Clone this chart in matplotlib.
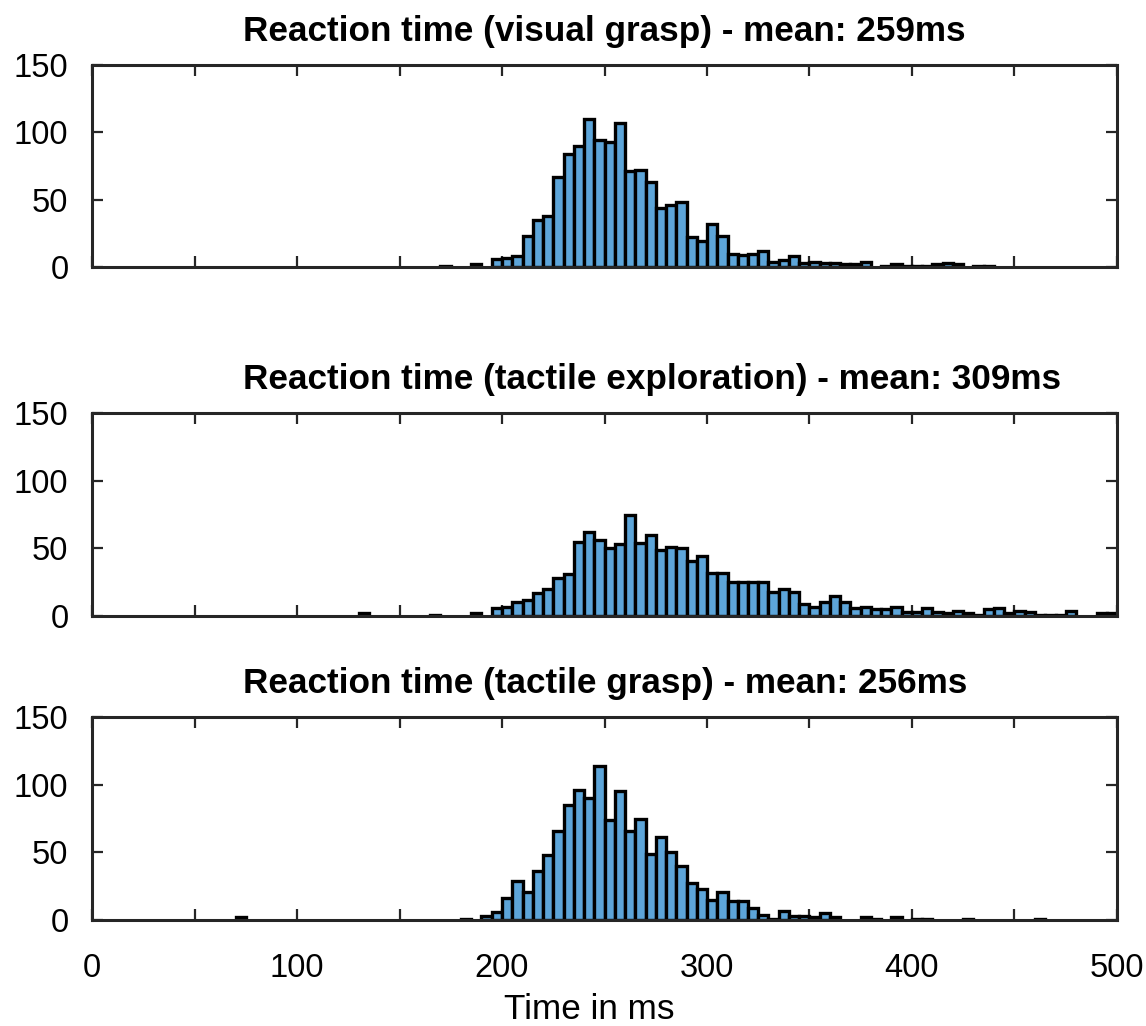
import matplotlib
matplotlib.use("Agg")
import matplotlib.pyplot as plt
from matplotlib.ticker import FuncFormatter

plt.rcParams['font.family'] = ['Liberation Sans', 'DejaVu Sans']

# histogram bins (left edge, ms) and counts, 5 ms wide bins
visual_bins = [170, 185, 195, 200, 205, 210, 215, 220, 225, 230, 235, 240, 245, 250,
               255, 260, 265, 270, 275, 280, 285, 290, 295, 300, 305, 310, 315, 320,
               325, 330, 335, 340, 345, 350, 355, 360, 365, 370, 375, 385, 390, 395,
               400, 405, 410, 415, 420, 430, 435]
visual_counts = [1, 2, 6, 7, 8, 23, 35, 38, 67, 84, 90, 110, 94, 93,
                 107, 71, 72, 63, 44, 46, 48, 22, 19, 32, 23, 10, 9, 10,
                 12, 4, 5, 8, 3, 4, 3, 3, 2, 2, 4, 1, 2, 1,
                 1, 1, 2, 3, 2, 1, 1]

explor_bins = [130, 165, 185, 195, 200, 205, 210, 215, 220, 225, 230, 235, 240, 245,
               250, 255, 260, 265, 270, 275, 280, 285, 290, 295, 300, 305, 310, 315,
               320, 325, 330, 335, 340, 345, 350, 355, 360, 365, 370, 375, 380, 385,
               390, 395, 400, 405, 410, 415, 420, 425, 430, 435, 440, 445, 450, 455,
               460, 465, 470, 475, 490, 495]
explor_counts = [2, 1, 2, 6, 7, 10, 12, 17, 20, 28, 31, 55, 62, 56,
                 50, 53, 75, 54, 60, 49, 51, 50, 41, 44, 32, 32, 25, 25,
                 25, 25, 18, 20, 18, 9, 7, 10, 15, 10, 6, 7, 5, 5,
                 7, 3, 3, 6, 3, 2, 4, 2, 1, 5, 6, 2, 4, 3,
                 1, 1, 1, 4, 2, 2]

tgrasp_bins = [70, 180, 190, 195, 200, 205, 210, 215, 220, 225, 230, 235, 240, 245,
               250, 255, 260, 265, 270, 275, 280, 285, 290, 295, 300, 305, 310, 315,
               320, 325, 330, 335, 340, 345, 350, 355, 360, 375, 380, 390, 400, 405,
               425, 460]
tgrasp_counts = [2, 1, 3, 6, 16, 29, 21, 36, 48, 66, 85, 96, 90, 114,
                 74, 95, 66, 75, 49, 61, 50, 40, 27, 23, 15, 21, 14, 14,
                 9, 4, 1, 7, 3, 3, 2, 5, 2, 2, 1, 2, 1, 1,
                 1, 1]

titles = ['Reaction time (visual grasp) - mean: 259ms',
          'Reaction time (tactile exploration) - mean: 309ms',
          'Reaction time (tactile grasp) - mean: 256ms']

W, H = 1146, 1026
fig = plt.figure(figsize=(W / 100, H / 100), dpi=100)

# axes boxes in pixels: (top, bottom)
boxes = [(65, 267), (413, 616), (717, 920)]
left, right = 92, 1117

data = [(visual_bins, visual_counts), (explor_bins, explor_counts), (tgrasp_bins, tgrasp_counts)]

bar_color = '#5da5d9'

for i, ((bins, counts), (top, bot)) in enumerate(zip(data, boxes)):
    ax = fig.add_axes([left / W, 1 - bot / H, (right - left) / W, (bot - top) / H])
    ax.bar(bins, counts, width=5, align='edge', color=bar_color,
           edgecolor='black', linewidth=2.4, zorder=2)
    ax.set_xlim(0, 500)
    ax.set_ylim(0, 150)
    ax.set_yticks([0, 50, 100, 150])
    ax.set_xticks(range(0, 501, 50))
    ax.tick_params(direction='in', length=8, width=1.6, top=True, right=True,
                   labelsize=23.5, colors='#262626', labelcolor='black')
    ax.tick_params(axis='y', pad=17)
    ax.tick_params(axis='x', pad=24)
    for s in ax.spines.values():
        s.set_linewidth(2.2)
        s.set_color('#262626')
        s.set_zorder(3)
    if i < 2:
        ax.set_xticklabels([])
    else:
        ax.xaxis.set_major_formatter(FuncFormatter(lambda v, p: '%d' % v if v % 100 == 0 else ''))
        ax.set_xlabel('Time in ms', fontsize=25.3)
        ax.xaxis.set_label_coords((589 - left) / (right - left), -0.36)
        ax.xaxis.label.set_va('top')
    ax.text((243 - left) / (right - left), 1 + 24 / (bot - top), titles[i],
            transform=ax.transAxes, ha='left', va='baseline',
            fontsize=25.3, fontweight='bold')

fig.savefig('out.png', dpi=100)
